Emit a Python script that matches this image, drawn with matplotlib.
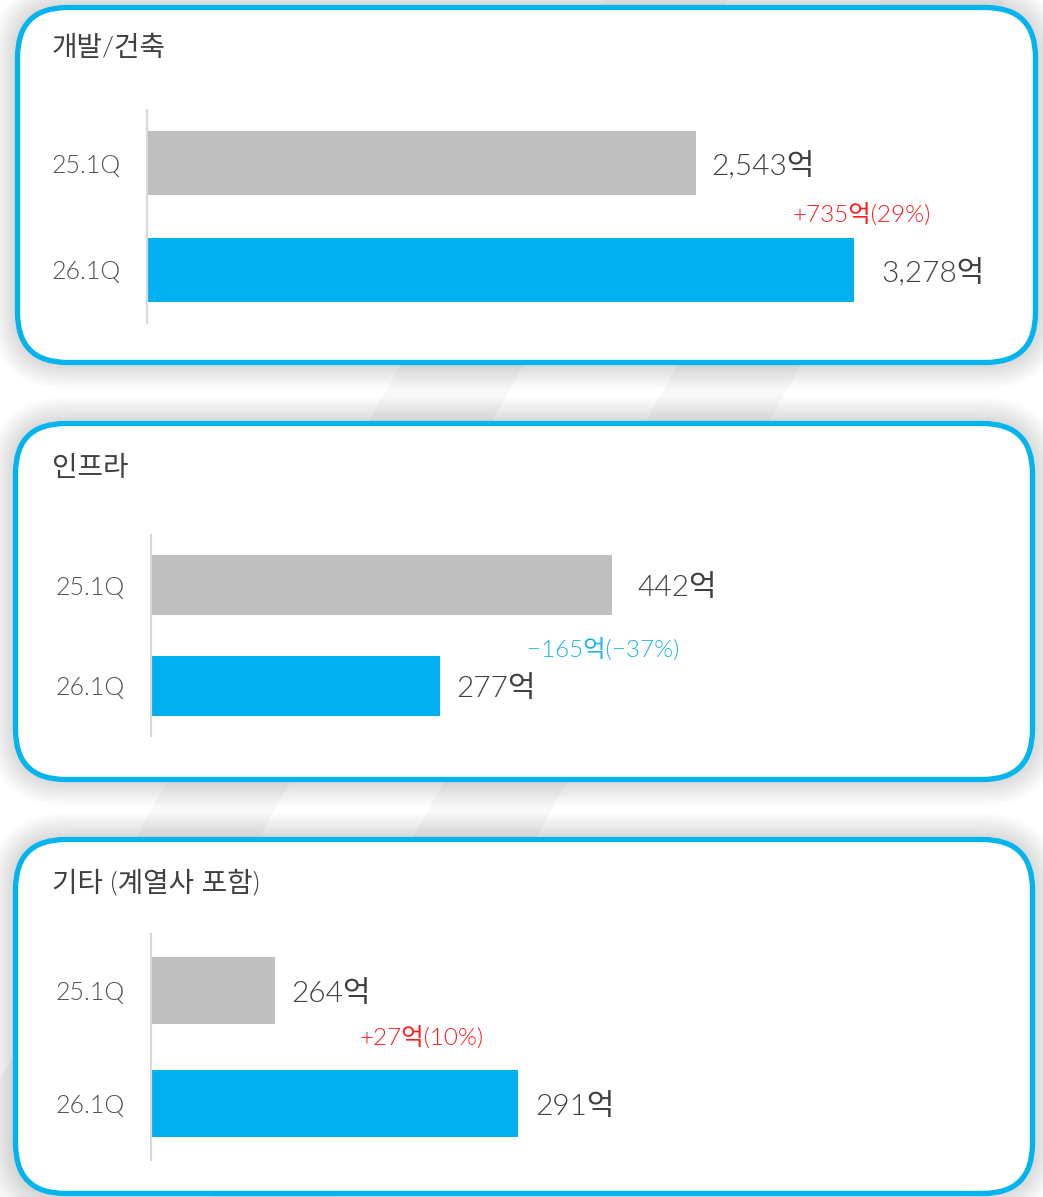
"""사업부문별 매출 비교 (25.1Q vs 26.1Q) 카드형 막대그래프."""
import matplotlib
matplotlib.use("Agg")
import matplotlib.pyplot as plt
from matplotlib.patches import FancyBboxPatch, Polygon

KR = ["Noto Sans CJK KR", "DejaVu Sans"]
NUM = ["Lato", "Noto Sans CJK KR", "DejaVu Sans"]  # 숫자는 가는 라틴 글꼴
plt.rcParams["font.family"] = KR

# ─── 데이터 ───
quarters = ["25.1Q", "26.1Q"]
segments = ["개발/건축", "인프라", "기타 (계열사 포함)"]
dev_values = [2543, 3278]
infra_values = [442, 277]
other_values = [264, 291]
all_values = [dev_values, infra_values, other_values]

# ─── 스타일 ───
W, H = 1043, 1197
BAR_COLORS = ["#BFBFBF", "#00B0F0"]
BORDER = "#00B4EE"
TXT = "#404040"
UP, DOWN = "#FF1A1A", "#1DB3EE"
LIGHT = 300

fig = plt.figure(figsize=(W / 100, H / 100), dpi=100)
fig.patch.set_facecolor("white")

# 배경용 축 (픽셀 좌표)
bg = fig.add_axes([0, 0, 1, 1])
bg.set_xlim(0, W)
bg.set_ylim(H, 0)
bg.axis("off")

# 배경 사선 줄무늬
for x_top in (400, 677):
    s = 0.56
    pts = [(x_top + s * 366, 0), (x_top + 123 + s * 366, 0),
           (x_top + 123 - s * (H - 366), H), (x_top - s * (H - 366), H)]
    bg.add_patch(Polygon(pts, closed=True, facecolor="#F8F8F8",
                         edgecolor="none", zorder=0))

# 카드 (x0, y0, x1, y1) - 테두리 중심선 기준
cards = [(17.5, 7.5, 1035.5, 362.5),
         (15.5, 423.5, 1032.5, 779.5),
         (15.5, 839.5, 1032.5, 1193.5)]
R = 50
for x0, y0, x1, y1 in cards:
    # 그림자
    for p in range(2, 28, 2):
        bg.add_patch(FancyBboxPatch(
            (x0, y0), x1 - x0, y1 - y0,
            boxstyle=f"round,pad={p},rounding_size={R + p}",
            facecolor="black", edgecolor="none", alpha=0.010, zorder=1))
    bg.add_patch(FancyBboxPatch(
        (x0, y0), x1 - x0, y1 - y0,
        boxstyle=f"round,pad=0,rounding_size={R}",
        facecolor="white", edgecolor=BORDER, linewidth=3.8, zorder=2))

# 제목
title_y = [48, 468, 883]
for name, ty in zip(segments, title_y):
    bg.text(52, ty, name, ha="left", va="center", fontsize=20,
            color=TXT, zorder=3, family=NUM, weight=LIGHT)

# ─── 막대 축 ───
# (left px, top px, right px, bottom px, xmin, px per unit)
axes_px = [(147, 110, 1000, 323, 0, 0.2158),
           (151, 535, 1000, 736, 0, 1.043),
           (151, 934, 1000, 1160, 250.2, 9.0)]
label_gap = [(16, 27), (25, 16), (16, 17)]  # 값 라벨 간격(px)
change_xy = [(862, 214), (603, 649), (422, 1037)]

for vals, (l, t, r, b, xmin, k), gaps, (cx, cy) in zip(
        all_values, axes_px, label_gap, change_xy):
    ax = fig.add_axes([l / W, 1 - b / H, (r - l) / W, (b - t) / H])
    ax.patch.set_alpha(0)
    ypos = list(range(len(quarters)))
    ax.barh(ypos, vals, height=0.6, color=BAR_COLORS, zorder=2)
    ax.set_xlim(xmin, xmin + (r - l) / k)
    ax.set_ylim(1.5, -0.5)
    ax.set_yticks(ypos)
    ax.set_yticklabels(quarters, fontsize=18, color="#505050",
                       family=NUM, weight=LIGHT)
    ax.tick_params(axis="y", length=0, pad=19)
    ax.set_xticks([])
    for side in ("top", "right", "bottom"):
        ax.spines[side].set_visible(False)
    ax.spines["left"].set_color("#D9D9D9")
    ax.spines["left"].set_linewidth(1.6)
    ax.spines["left"].set_zorder(3)

    for i, v in enumerate(vals):
        ax.annotate(f"{v:,}억", xy=(v, i), xytext=(gaps[i] * 0.72, -2),
                    textcoords="offset points", ha="left", va="center",
                    fontsize=21.5, color=TXT, family=NUM, weight=LIGHT)

    diff = vals[1] - vals[0]
    pct = round(diff / vals[0] * 100)
    if diff >= 0:
        txt, col = f"+{diff:,}억({pct}%)", UP
    else:
        txt, col = f"\u2212{abs(diff):,}억(\u2212{abs(pct)}%)", DOWN
    bg.text(cx, cy, txt, ha="center", va="center", fontsize=17.5,
            color=col, zorder=3, family=NUM, weight=LIGHT)

fig.savefig("out.png", dpi=100, facecolor="white")
plt.close(fig)
